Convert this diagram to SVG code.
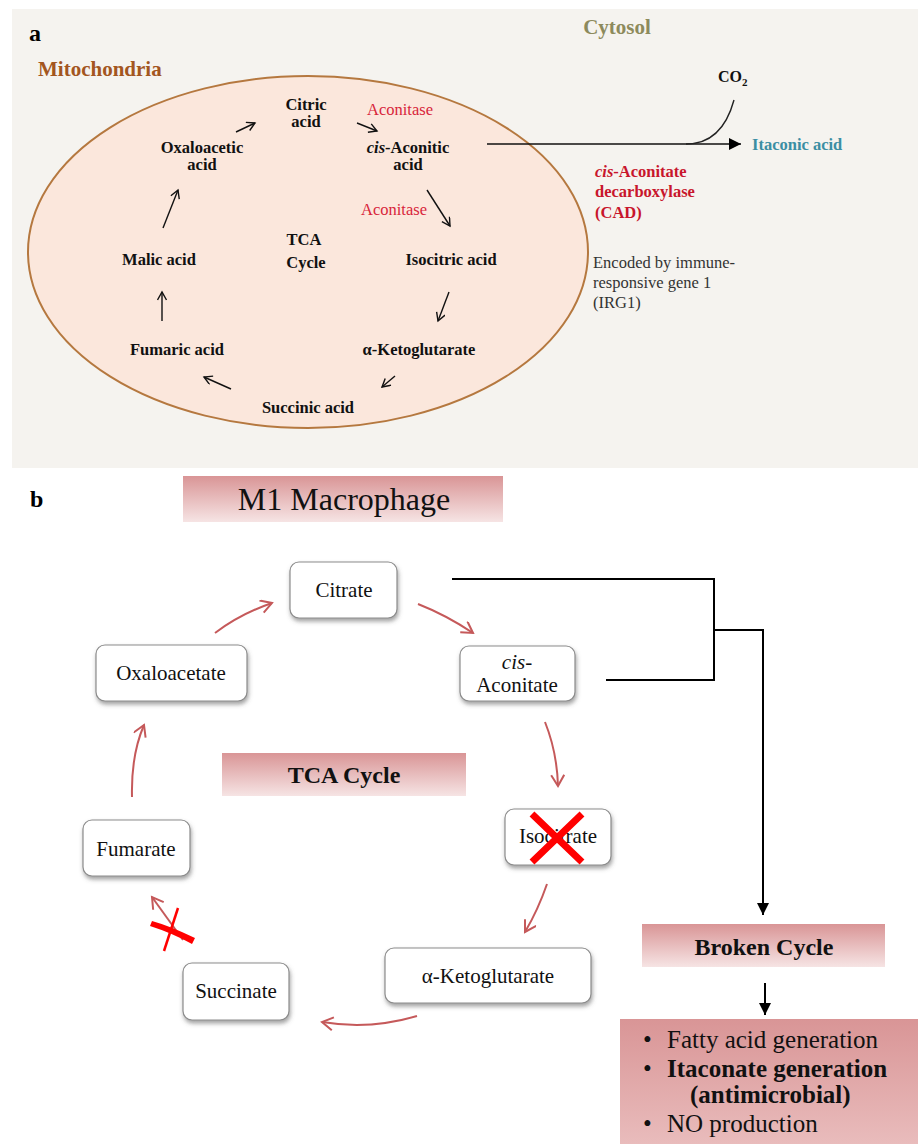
<svg xmlns="http://www.w3.org/2000/svg" width="918" height="1144" viewBox="0 0 918 1144">
<style>
text{font-family:"Liberation Serif","Times New Roman",serif}
.b{font-weight:bold}
.lbl{font-size:16.5px;font-weight:bold;fill:#111;text-anchor:middle}
.enz{font-size:16.5px;fill:#d8253a}
.node{fill:#fff;stroke:#8c8c8c;stroke-width:1.2;filter:url(#sh)}
.nt{font-size:21px;fill:#111;text-anchor:middle}
.ka{fill:none;stroke:#111;stroke-width:1.4;marker-end:url(#mB)}
.ra{fill:none;stroke:#c5595a;stroke-width:2;marker-end:url(#mR)}
.bl{fill:none;stroke:#000;stroke-width:2}
</style>
<defs>
<marker id="mB" markerUnits="userSpaceOnUse" markerWidth="12" markerHeight="12" refX="9" refY="5" orient="auto"><path d="M1,0.5 L9,5 L1,9.5" fill="none" stroke="#111" stroke-width="1.4"/></marker>
<marker id="mR" markerUnits="userSpaceOnUse" markerWidth="16" markerHeight="16" refX="12" refY="7" orient="auto"><path d="M1,0.5 L12,7 L1,13.5" fill="none" stroke="#c5595a" stroke-width="2"/></marker>
<marker id="mF" markerUnits="userSpaceOnUse" markerWidth="14" markerHeight="14" refX="12" refY="6" orient="auto"><path d="M0,0 L12,6 L0,12 Z" fill="#000"/></marker>
<linearGradient id="pg" x1="0" y1="0" x2="0" y2="1"><stop offset="0" stop-color="#d99596"/><stop offset="1" stop-color="#f6e4e4"/></linearGradient>
<linearGradient id="pg2" x1="0" y1="0" x2="0" y2="1"><stop offset="0" stop-color="#d99596"/><stop offset="1" stop-color="#e9bcbc"/></linearGradient>
<filter id="sh" x="-20%" y="-20%" width="140%" height="160%"><feDropShadow dx="1" dy="3" stdDeviation="2" flood-color="#555" flood-opacity="0.55"/></filter>
</defs>

<!-- Panel a -->
<rect x="12" y="9" width="906" height="459" fill="#f5f3ef"/>
<text x="29" y="41" font-size="24" class="b" fill="#000">a</text>
<text x="38" y="76" font-size="21" class="b" fill="#a3561f">Mitochondria</text>
<text x="617" y="34" font-size="21" class="b" fill="#8d8a5c" text-anchor="middle">Cytosol</text>

<g id="mito"><ellipse cx="308" cy="252" rx="280" ry="176" fill="#fbe7dc" stroke="#b5783f" stroke-width="2"/></g>

<g id="a-citric"><text class="lbl" x="306" y="110">Citric</text><text class="lbl" x="306" y="127">acid</text></g>
<g id="a-oxalo"><text class="lbl" x="202" y="153">Oxaloacetic</text><text class="lbl" x="202" y="170">acid</text></g>
<g id="a-cis"><text class="lbl" x="408" y="153"><tspan font-style="italic">cis</tspan>-Aconitic</text><text class="lbl" x="408" y="170">acid</text></g>
<g id="a-tca"><text class="lbl" x="304" y="245" font-size="19">TCA</text><text class="lbl" x="306" y="268" font-size="19">Cycle</text></g>
<g id="a-malic"><text class="lbl" x="159" y="265">Malic acid</text></g>
<g id="a-iso"><text class="lbl" x="451" y="265">Isocitric acid</text></g>
<g id="a-fum"><text class="lbl" x="177" y="355">Fumaric acid</text></g>
<g id="a-akg"><text class="lbl" x="419" y="355">α-Ketoglutarate</text></g>
<g id="a-succ"><text class="lbl" x="308" y="413">Succinic acid</text></g>
<g id="a-enz">
<text class="enz" x="367" y="115">Aconitase</text>
<text class="enz" x="361" y="215">Aconitase</text>
</g>
<g id="a-co2"><text x="718" y="82" font-size="16" class="b" fill="#111">CO<tspan font-size="11" dy="4">2</tspan></text></g>
<g id="a-ita"><text x="752" y="150" font-size="16.5" class="b" fill="#3b8ea3">Itaconic acid</text></g>
<g id="a-cad">
<text x="595" y="177" font-size="16.5" class="b" fill="#c8162c"><tspan font-style="italic">cis</tspan>-Aconitate</text>
<text x="595" y="197" font-size="16.5" class="b" fill="#c8162c">decarboxylase</text>
<text x="595" y="218" font-size="16.5" class="b" fill="#c8162c">(CAD)</text>
</g>
<g id="a-irg" font-size="16.5" fill="#333">
<text x="593" y="268">Encoded by immune-</text>
<text x="593" y="288">responsive gene 1</text>
<text x="593" y="308">(IRG1)</text>
</g>

<g id="a-connectors">
<path class="ka" d="M236,132 L255,123"/>
<path class="ka" d="M357,123 L377,131"/>
<path class="ka" d="M427,190 L450,226"/>
<path class="ka" d="M449,292 L438,321"/>
<path class="ka" d="M395,376 L382,387"/>
<path class="ka" d="M231,389 L204,377"/>
<path class="ka" d="M162,321 L162,292"/>
<path class="ka" d="M163,228 L178,190"/>
<path d="M487,144 L741,144" fill="none" stroke="#111" stroke-width="1.6" marker-end="url(#mF)"/>
<path d="M686,144 Q722,144 734,100" fill="none" stroke="#222" stroke-width="1.4"/>
</g>

<!-- Panel b -->
<text x="30" y="507" font-size="24" class="b" fill="#000">b</text>
<g id="b-m1"><rect x="183" y="476" width="320" height="46" fill="url(#pg)"/><text x="344" y="510" font-size="32" fill="#111" text-anchor="middle">M1 Macrophage</text></g>
<g id="b-tca"><rect x="222" y="753" width="244" height="43" fill="url(#pg)"/><text x="344" y="783" font-size="24" class="b" fill="#111" text-anchor="middle">TCA Cycle</text></g>

<g id="b-citrate"><rect class="node" x="290" y="562" width="107" height="56" rx="9"/><text class="nt" x="344" y="597">Citrate</text></g>
<g id="b-oxalo"><rect class="node" x="96" y="645" width="151" height="56" rx="9"/><text class="nt" x="171" y="680">Oxaloacetate</text></g>
<g id="b-cis"><rect class="node" x="460" y="646" width="115" height="55" rx="9"/><text class="nt" x="517" y="669" font-style="italic">cis-</text><text class="nt" x="517" y="692">Aconitate</text></g>
<g id="b-iso"><rect class="node" x="505" y="809" width="106" height="56" rx="9"/><text class="nt" x="558" y="843">Isocitrate</text>
<path d="M532,814 L582,862 M582,814 L532,862" stroke="#f00" stroke-width="7" fill="none"/></g>
<g id="b-fum"><rect class="node" x="83" y="820" width="107" height="56" rx="9"/><text class="nt" x="136" y="856">Fumarate</text></g>
<g id="b-akg"><rect class="node" x="385" y="948" width="206" height="55" rx="9"/><text class="nt" x="488" y="983">α-Ketoglutarate</text></g>
<g id="b-succ"><rect class="node" x="183" y="963" width="106" height="57" rx="9"/><text class="nt" x="236" y="998">Succinate</text></g>

<g id="b-broken"><rect x="642" y="924" width="243" height="43" fill="url(#pg)"/><text x="764" y="955" font-size="24" class="b" fill="#111" text-anchor="middle">Broken Cycle</text></g>
<g id="b-out"><rect x="620" y="1019" width="298" height="125" fill="url(#pg2)"/>
<g font-size="25" fill="#111">
<text x="643" y="1048">•</text><text x="667" y="1048">Fatty acid generation</text>
<text x="643" y="1077">•</text><text x="667" y="1077" class="b">Itaconate generation</text>
<text x="690" y="1103" class="b">(antimicrobial)</text>
<text x="643" y="1132">•</text><text x="667" y="1132">NO production</text>
</g></g>

<g id="b-connectors">
<path class="ra" d="M215,633 Q240,614 272,603"/>
<path class="ra" d="M418,604 Q446,615 473,633"/>
<path class="ra" d="M545,722 Q557,752 558,786"/>
<path class="ra" d="M547,884 Q538,910 525,932"/>
<path class="ra" d="M417,1016 Q370,1030 322,1022"/>
<path class="ra" d="M183,940 L152,897"/>
<path class="ra" d="M132,797 Q131,755 144,725"/>
<path d="M152,921 Q170,926 195,938 L192,944 Q172,933 150,926 Z" fill="#f00"/>
<path d="M178,908 L164,951" stroke="#f00" stroke-width="2.5" fill="none"/>
<path class="bl" d="M452,579 L714,579 L714,680 L606,680"/>
<path class="bl" d="M714,630 L763,630 L763,915" marker-end="url(#mF)"/>
<path class="bl" d="M765,983 L765,1015" marker-end="url(#mF)"/>
</g>
</svg>
